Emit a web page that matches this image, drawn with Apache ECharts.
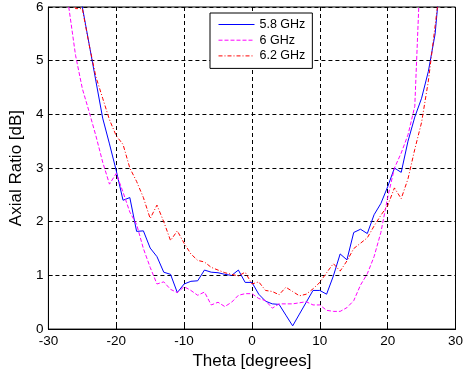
<!DOCTYPE html>
<html>
<head>
<meta charset="utf-8">
<script src="https://cdn.jsdelivr.net/npm/echarts@6/dist/echarts.min.js"></script>
<style>
  html, body { margin: 0; padding: 0; background: #fff; }
  #chart { width: 466px; height: 375px; }
</style>
</head>
<body>
<div id="chart"></div>
<script>
// Axial ratio vs. observation angle, three frequencies
const theta = [-28, -27, -26, -25, -24, -23, -22, -21, -20, -19, -18, -17, -16, -15, -14, -13, -12, -11, -10, -9, -8, -7, -6, -5, -4, -3, -2, -1, 0, 1, 2, 3, 4, 5, 6, 7, 8, 9, 10, 11, 12, 13, 14, 15, 16, 17, 18, 19, 20, 21, 22, 23, 24, 25, 26, 27, 28];

const ar58 = [7.5, 7.2, 6.8, 6.0, 5.31, 4.62, 3.93, 3.45, 2.95, 2.40, 2.45, 1.82, 1.83, 1.51, 1.35, 1.06, 1.02, 0.68, 0.84, 0.89, 0.90, 1.10, 1.06, 1.05, 1.02, 1.00, 1.10, 0.87, 0.87, 0.65, 0.52, 0.47, 0.46, 0.26, 0.06, 0.28, 0.50, 0.72, 0.72, 0.65, 0.99, 1.40, 1.29, 1.80, 1.86, 1.78, 2.13, 2.34, 2.65, 3.00, 2.92, 3.50, 3.95, 4.30, 4.80, 5.50, 6.90];

const ar60 = [7.0, 6.0, 5.1, 4.48, 4.05, 3.60, 3.11, 2.70, 2.90, 2.55, 2.18, 1.95, 1.50, 1.15, 0.84, 0.88, 0.74, 0.68, 0.79, 0.72, 0.63, 0.69, 0.45, 0.50, 0.42, 0.50, 0.63, 0.66, 0.66, 0.57, 0.53, 0.39, 0.47, 0.47, 0.47, 0.49, 0.51, 0.45, 0.45, 0.35, 0.33, 0.33, 0.40, 0.53, 0.82, 1.03, 1.35, 1.80, 2.45, 3.00, 3.28, 3.62, 4.15, 7.30, 8.0, 8.5, 9.0];

const ar62 = [6.8, 6.4, 5.97, 5.97, 5.30, 4.70, 4.30, 3.90, 3.60, 3.44, 3.00, 2.75, 2.45, 2.06, 2.31, 2.00, 1.65, 1.83, 1.60, 1.40, 1.28, 1.25, 1.15, 1.10, 1.05, 1.02, 0.99, 1.06, 0.84, 0.88, 0.72, 0.70, 0.64, 0.78, 0.70, 0.62, 0.65, 0.75, 0.87, 1.05, 1.22, 1.08, 1.27, 1.50, 1.60, 1.70, 1.92, 2.12, 2.30, 2.63, 2.43, 2.80, 3.35, 3.85, 4.62, 5.65, 6.70];

const seriesNames = ['5.8 GHz', '6 GHz', '6.2 GHz'];
const xTicks = { min: -30, max: 30, step: 10 };
const yTicks = { min: 0, max: 6, step: 1 };

const FONT = '"Liberation Sans", Arial, Helvetica, sans-serif';

function pairs(ys) {
  return theta.map((t, i) => [t, ys[i]]);
}

const gridLine = { show: true, lineStyle: { color: '#000', width: 1, type: [4, 3] } };

const chart = echarts.init(document.getElementById('chart'), null, { renderer: 'canvas' });

chart.setOption({
  animation: false,
  backgroundColor: '#fff',
  grid: {
    left: 46, right: 6, top: 7, bottom: 41,
    show: true, borderColor: '#000', borderWidth: 1, backgroundColor: 'transparent'
  },
  legend: {
    orient: 'vertical',
    left: 210, top: 13,
    padding: [5, 7, 6, 8],
    itemWidth: 36, itemHeight: 14, itemGap: 2.7,
    backgroundColor: '#fff',
    borderColor: '#000', borderWidth: 1,
    // line sample only, no marker
    itemStyle: { color: 'transparent', borderWidth: 0, opacity: 0 },
    lineStyle: { width: 1 },
    textStyle: { fontFamily: FONT, fontSize: 12.5, color: '#000' },
    data: seriesNames
  },
  xAxis: {
    type: 'value',
    min: xTicks.min, max: xTicks.max, interval: xTicks.step,
    name: 'Theta [degrees]',
    nameLocation: 'middle', nameGap: 19,
    nameTextStyle: { fontFamily: FONT, fontSize: 17, color: '#000' },
    axisLine: { show: true, onZero: false, lineStyle: { color: '#000', width: 1 } },
    axisTick: { show: true, inside: true, length: 4, lineStyle: { color: '#000' } },
    axisLabel: { fontFamily: FONT, fontSize: 13.5, color: '#000', margin: 5 },
    splitLine: gridLine
  },
  yAxis: {
    type: 'value',
    min: yTicks.min, max: yTicks.max, interval: yTicks.step,
    name: 'Axial Ratio [dB]',
    nameLocation: 'middle', nameGap: 17,
    nameTextStyle: { fontFamily: FONT, fontSize: 17, color: '#000' },
    axisLine: { show: true, onZero: false, lineStyle: { color: '#000', width: 1 } },
    axisTick: { show: true, inside: true, length: 4, lineStyle: { color: '#000' } },
    axisLabel: { fontFamily: FONT, fontSize: 13.5, color: '#000', margin: 5 },
    splitLine: gridLine
  },
  series: [
    {
      name: seriesNames[0], type: 'line', data: pairs(ar58),
      showSymbol: false, symbol: 'none', clip: true,
      lineStyle: { color: '#0000ff', width: 1, type: 'solid' },
      itemStyle: { color: '#0000ff' }
    },
    {
      name: seriesNames[1], type: 'line', data: pairs(ar60),
      showSymbol: false, symbol: 'none', clip: true,
      lineStyle: { color: '#ff00ff', width: 1, type: [4, 2] },
      itemStyle: { color: '#ff00ff' }
    },
    {
      name: seriesNames[2], type: 'line', data: pairs(ar62),
      showSymbol: false, symbol: 'none', clip: true,
      lineStyle: { color: '#ff0000', width: 1, type: [4, 2, 1, 2] },
      itemStyle: { color: '#ff0000' }
    }
  ]
});
</script>
</body>
</html>
